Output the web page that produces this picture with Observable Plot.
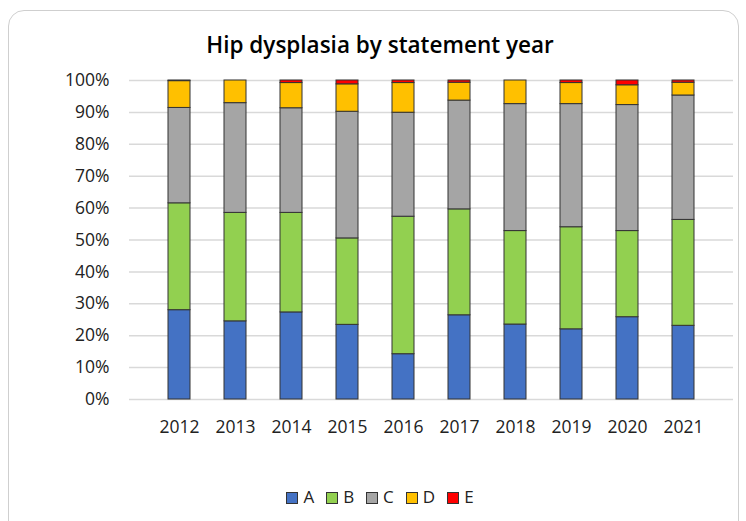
<!DOCTYPE html>
<html><head><meta charset="utf-8">
<script src="https://cdn.jsdelivr.net/npm/d3@7"></script>
<script src="https://cdn.jsdelivr.net/npm/@observablehq/plot@0.6"></script>
<style>
body{margin:0;background:#fff;font-family:"Open Sans",sans-serif;}
#wrap{position:relative;width:746px;height:521px;overflow:hidden;}
#frame{position:absolute;left:8px;top:10px;width:729px;height:530px;border:1px solid #cfcfcf;border-radius:16px;}
#title{position:absolute;left:0;width:760px;top:29px;text-align:center;font-weight:600;font-size:22.5px;color:#000;}
#chart{position:absolute;left:0;top:0;}
#legend{position:absolute;left:0;width:760px;top:485px;text-align:center;font-size:17px;color:#222;}
#legend span.item{display:inline-block;margin:0 6px;}
#legend span.sw{display:inline-block;width:10px;height:10px;border:1px solid #333;margin-right:5px;vertical-align:-1px;}
</style></head>
<body><div id="wrap"><div id="frame"></div><div id="title">Hip dysplasia by statement year</div><div id="chart"></div><div id="legend"></div></div>
<script>
const years = ["2012","2013","2014","2015","2016","2017","2018","2019","2020","2021"];
const categories = ["A","B","C","D","E"];
const colors = ["#4472C4","#92D050","#A5A5A5","#FFC000","#FF0000"];
const A = [28.0,24.5,27.3,23.4,14.2,26.4,23.5,22.0,25.8,23.1];
const B = [33.5,34.0,31.2,27.1,43.1,33.2,29.3,32.0,27.0,33.2];
const C = [29.9,34.4,32.8,39.7,32.6,34.1,39.8,38.6,39.5,39.0];
const D = [8.4,7.1,7.9,8.6,9.3,5.6,7.4,6.6,6.2,4.0];
const E = [0.2,0.0,0.8,1.2,0.8,0.7,0.0,0.8,1.5,0.7];
const series = {A,B,C,D,E};
const yTicks = [0,0.1,0.2,0.3,0.4,0.5,0.6,0.7,0.8,0.9,1];

const data = [];
years.forEach((y,i)=>categories.forEach(c=>data.push({year:y,cat:c,value:series[c][i]})));

const chart = Plot.plot({
  width:746, height:450,
  marginTop:80, marginBottom:51, marginLeft:129, marginRight:13,
  style:{fontFamily:"'Open Sans', sans-serif", fontSize:"17.5px", color:"#222", background:"transparent"},
  x:{domain:years, padding:0.6, label:null, tickSize:0, tickPadding:21},
  y:{domain:[0,1], ticks:yTicks, tickFormat:d3.format(".0%"), label:null, tickSize:0, tickPadding:20},
  color:{domain:categories, range:colors},
  marks:[
    Plot.gridY(yTicks,{stroke:"#d9d9d9", strokeOpacity:1, strokeWidth:1.5}),
    Plot.barY(data, Plot.stackY({x:"year", y:"value", fill:"cat", order:categories, offset:"normalize", stroke:"#333", strokeWidth:1}))
  ]
});
document.getElementById("chart").appendChild(chart);

const lg = document.getElementById("legend");
categories.forEach((c,i)=>{
  const it = document.createElement("span"); it.className="item";
  it.innerHTML = `<span class="sw" style="background:${colors[i]}"></span>${c}`;
  lg.appendChild(it);
});
</script></body></html>
